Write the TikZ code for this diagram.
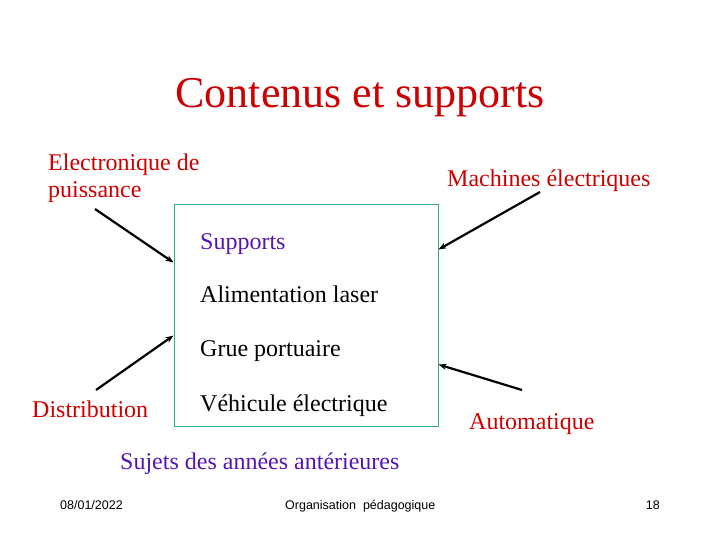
\documentclass[tikz,border=0pt]{standalone}
\usepackage{fontspec}
\setmainfont{Liberation Serif}
\newfontfamily\footfont{Liberation Sans}
\usetikzlibrary{arrows.meta, calc}
\definecolor{titlered}{RGB}{204,0,0}
\definecolor{suppurple}{RGB}{85,20,180}
\definecolor{boxteal}{RGB}{51,170,150}

\begin{document}
\begin{tikzpicture}[x=1pt, y=-1pt,
        txt/.style={anchor=base west, inner sep=0pt, font=\fontsize{24}{27}\selectfont},
        topic/.style={txt, text=titlered},
        foot/.style={anchor=base west, inner sep=0pt, font=\footfont\fontsize{12.5}{15}\selectfont},
        link/.style={-{Stealth[length=8pt, width=6pt]}, line width=2.2pt}]
            \useasboundingbox (0,0) rectangle (720,540);
            \node[inner sep=0pt, anchor=base, text=titlered, font=\fontsize{44}{50}\selectfont] (title) at (360,108) {Contenus et supports};
            \node[draw=boxteal, line width=1pt, minimum width=264pt, minimum height=221pt, inner sep=0pt] (box) at (306,315.5) {};
            \node[txt, text=suppurple] (supports) at (200,249) {Supports};
            \node[txt] (laser) at (200,302) {Alimentation laser};
            \node[txt] (grue) at (200,356) {Grue portuaire};
            \node[txt] (vehicule) at (200,411) {Véhicule électrique};
            \node[topic, align=left] (elec) at (48,198) {Electronique de\\puissance};
            \node[topic] (machines) at (447,187) {Machines électriques};
            \node[topic] (distrib) at (32,417) {Distribution};
            \node[topic] (auto) at (469,429) {Automatique};
            \node[txt, text=suppurple] (sujets) at (120,469) {Sujets des années antérieures};
            \coordinate (elecS) at (95,209);
            \coordinate (machS) at (540,192);
            \coordinate (distS) at (96,390);
            \coordinate (autoS) at (522,390);
            \draw[link] (elecS) -- ($(box.north west)+(0,58)$);
            \draw[link] (machS) -- ($(box.north east)+(0,45)$);
            \draw[link] (distS) -- ($(box.north west)+(0,131)$);
            \draw[link] (autoS) -- ($(box.north east)+(0,160)$);
            \node[foot] (date) at (60,509) {08/01/2022};
            \node[foot] (orga) at (285,509) {Organisation\ \ pédagogique};
            \node[foot, anchor=base east] (page) at (660,509) {18};
        \end{tikzpicture}
\end{document}
